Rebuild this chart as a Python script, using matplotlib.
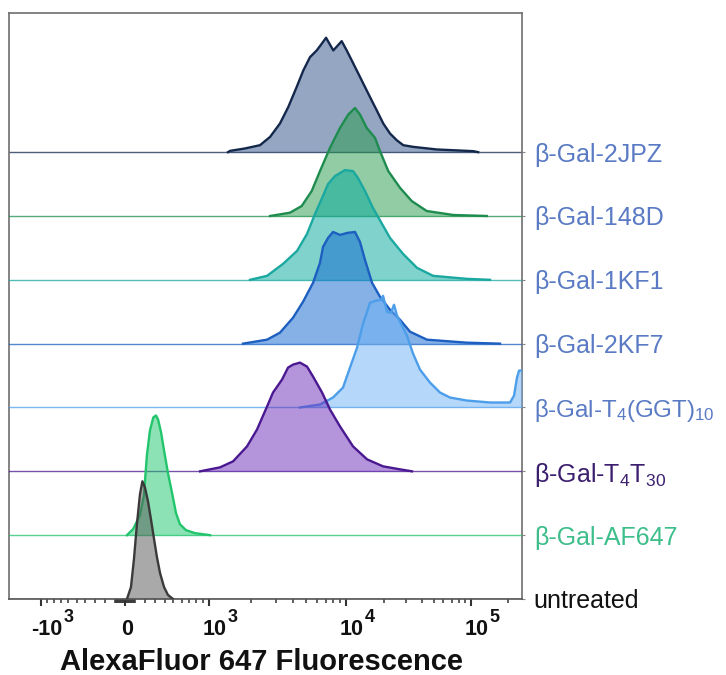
import numpy as np
import matplotlib
matplotlib.use("Agg")
import matplotlib.pyplot as plt
from matplotlib.ticker import FixedLocator, NullFormatter

plt.rcParams['font.family'] = ['Liberation Sans', 'DejaVu Sans']
plt.rcParams['mathtext.fontset'] = 'custom'
plt.rcParams['mathtext.rm'] = 'Liberation Sans'
plt.rcParams['mathtext.it'] = 'Liberation Sans'
plt.rcParams['mathtext.bf'] = 'Liberation Sans:bold'

# ---------------- data (fluorescence value, normalized count) ----------------
labels = ['β-Gal-2JPZ', 'β-Gal-148D', 'β-Gal-1KF1', 'β-Gal-2KF7',
          'β-Gal-T$_4$(GGT)$_{10}$', 'β-Gal-T$_4$T$_{30}$', 'β-Gal-AF647', 'untreated']

x_2jpz = [1372, 1419, 1808, 2308, 2722, 3205, 3686, 4246, 4758, 5337, 5994, 6538, 7054,
          8014, 9300, 10171, 11129, 12170, 13711, 15472, 17481, 19722, 22310, 25231,
          28450, 34280, 52980, 105040, 115000]
h_2jpz = [0, 1.3, 3.7, 7, 15.3, 28.7, 45.3, 65.3, 82, 95.3, 102, 108.7, 114.7,
          102, 111.3, 102, 92, 82, 68.7, 55.3, 42, 28.7, 18.7, 12,
          7, 5.3, 2.7, 1, 0]

x_148d = [2722, 3791, 4625, 5493, 6343, 7558, 9025, 10460, 11800, 12910, 14577, 16950,
          18575, 21614, 26800, 33289, 43980, 72195, 135100]
h_148d = [0, 3.3, 10, 25, 45, 68.3, 88.3, 101.7, 108.3, 101.7, 88.3, 78.3,
          65, 45, 28.3, 15, 5, 1, 0]

x_1kf1 = [1962, 2590, 3376, 4273, 5068, 5816, 6578, 7304, 8250, 9860, 11390, 12462,
          14130, 16340, 19280, 22310, 28350, 36750, 49500, 92620, 143750]
h_1kf1 = [0, 4, 16, 29, 46, 66, 82, 96, 104, 110, 109, 102,
          89, 72, 56, 42, 26, 12, 4, 1, 0]

x_2kf7 = [1749, 2590, 3205, 3993, 4733, 5622, 6343, 6687, 7304, 7973, 9025, 10235,
          11800, 12910, 14130, 16070, 18575, 22310, 26800, 32270, 44170, 92620, 173400]
h_2kf7 = [0, 4, 11, 26, 42, 61, 81, 97, 106, 112, 109, 111,
          112, 102, 84, 61, 47, 34, 24, 12, 4, 1, 0]

x_ggt = [4490, 6343, 7973, 9521, 10786, 12240, 13640, 14680, 15472, 17256, 18933, 19630,
         21135, 22704, 24012, 25383, 28350, 30470, 34130, 38810, 46750, 56324, 67900,
         92620, 143750, 209300, 225830, 238570, 248110, 262144]
h_ggt = [0, 3, 10, 20, 40, 60, 84, 96, 105, 107, 108, 112,
         96, 95, 103, 92, 80, 72, 54, 38, 25, 15, 10,
         7, 5, 5, 12, 30, 37, 37]

x_t30 = [855, 1204, 1490, 1868, 2199, 2590, 2857, 3319, 3670, 3993, 4490, 5068,
         5622, 6578, 7558, 9025, 11390, 14680, 19630, 26800, 33450]
h_t30 = [0, 4, 10, 25, 42, 65, 79, 92, 104, 107, 109, 105,
         95, 79, 62, 45, 25, 12, 5, 2, 0]

x_af = [19, 78, 146, 185, 215, 246, 280, 308, 330, 362, 394, 438, 485, 531, 578,
        656, 781, 1018]
h_af = [0, 6, 20, 40, 80, 105, 118, 120, 116, 103, 85, 62, 42, 22, 11, 5, 2, 0]

x_un = [19, 58, 87, 116, 146, 170, 195, 226, 256, 288, 318, 351, 394, 438, 495]
h_un = [0, 12, 40, 75, 105, 118, 112, 98, 80, 60, 42, 26, 12, 4, 0]

xs = [x_2jpz, x_148d, x_1kf1, x_2kf7, x_ggt, x_t30, x_af, x_un]
hs = [h_2jpz, h_148d, h_1kf1, h_2kf7, h_ggt, h_t30, h_af, h_un]

fill_colors = ['#2A4F86', '#259B4B', '#00A99B', '#0D65D1', '#6DB1F5', '#6B2DB9', '#1BC76D', '#555555']
line_colors = ['#14284B', '#1E8C4E', '#1AA8A0', '#1C5FC0', '#4D9EEA', '#4A1890', '#22C46C', '#3A3A3A']
label_colors = ['#5A7BC4', '#5A7BC4', '#5A7BC4', '#5A7BC4', '#5A7BC4', '#3B1F6E', '#3DBE8A', '#111111']
label_sizes = [18, 18, 18, 18, 17.3, 18, 18, 18]

major_ticks = [-1000, 0, 1000, 10000, 100000]
tick_bases = ['-10', '0', '10', '10', '10']
tick_exps = ['3', '', '3', '4', '5']
minor_ticks = ([-900, -800, -700, -600, -500, -400, -300, -200, -100,
                -90, -80, -70, -60, -50, -40, -30, -20, -10,
                10, 20, 30, 40, 50, 60, 70, 80, 90,
                100, 200, 300, 400, 500, 600, 700, 800, 900,
                2000, 3000, 4000, 5000, 6000, 7000, 8000, 9000,
                20000, 30000, 40000, 50000, 60000, 70000, 80000, 90000, 200000])

X_MIN, X_MAX = -1695, 262144
COUNT_PER_ROW = 64.0

# ---------------- biexponential (logicle-like) scale ----------------
P = 2.53
P2 = P * P
U_TOP = 3.254


def _f(u):
    a = np.abs(u)
    return np.sign(u) * (10.0 ** a - P2 * 10.0 ** (-a / P) + P2 - 1.0)


F_TOP = _f(U_TOP)
_ugrid = np.linspace(-1.6, 3.7, 40001)
_vgrid = X_MAX * _f(_ugrid) / F_TOP


def inverse(u):
    return X_MAX * _f(np.asarray(u, dtype=float)) / F_TOP


def forward(x):
    return np.interp(np.asarray(x, dtype=float), _vgrid, _ugrid)


# ---------------- figure ----------------
fig = plt.figure(figsize=(7.26, 6.75), dpi=100)
ax = fig.add_axes([9 / 726, 76 / 675, 513 / 726, 586 / 675])
ax.set_xscale('function', functions=(forward, inverse))

n = len(labels)
offsets = [n - 1 - i for i in range(n)]
for i in range(n):
    base = offsets[i]
    x = np.array(xs[i], dtype=float)
    y = base + np.array(hs[i], dtype=float) / COUNT_PER_ROW
    z = 2 + i
    ax.axhline(base, color=line_colors[i], lw=1.0, alpha=0.75, zorder=z)
    ax.fill_between(x, base, y, color=fill_colors[i], alpha=0.5, lw=0, zorder=z)
    ax.plot(x, y, color=line_colors[i], lw=1.7, zorder=z + 0.5, solid_joinstyle='round')

ax.set_xlim(X_MIN, X_MAX)
ax.set_ylim(0, 9.18)

ax.xaxis.set_major_locator(FixedLocator(major_ticks))
ax.xaxis.set_major_formatter(NullFormatter())
ax.xaxis.set_minor_locator(FixedLocator(minor_ticks))
ax.tick_params(axis='x', which='major', direction='out', length=5, width=1.5,
               color='#333333')
ax.tick_params(axis='x', which='minor', direction='out', length=3.2, width=1.1,
               color='#333333')

# tick labels: base and large superscript exponent
xt = ax.get_xaxis_transform()
for v, b, e in zip(major_ticks, tick_bases, tick_exps):
    if e:
        right = 15.5 if b.startswith('-') else 13.0
        ax.annotate(b, xy=(v, 0), xycoords=xt, xytext=(right, -26), textcoords='offset points',
                    ha='right', va='baseline', fontsize=15.5, fontweight='bold', color='#111111')
        ax.annotate(e, xy=(v, 0), xycoords=xt, xytext=(right + 0.5, -16.5), textcoords='offset points',
                    ha='left', va='baseline', fontsize=13, fontweight='bold', color='#111111')
    else:
        ax.annotate(b, xy=(v, 0), xycoords=xt, xytext=(1.5, -26), textcoords='offset points',
                    ha='center', va='baseline', fontsize=15.5, fontweight='bold', color='#111111')

ax.set_yticks(offsets)
ax.set_yticklabels(labels)
ax.tick_params(axis='y', which='both', left=False, right=True, labelleft=False,
               labelright=True, length=2.5, width=0.8, color='#888888',
               labelsize=18, pad=6)
for t, c, s in zip(ax.get_yticklabels(), label_colors, label_sizes):
    t.set_color(c)
    t.set_fontsize(s)

for s in ax.spines.values():
    s.set_color('#6E6E6E')
    s.set_linewidth(1.2)
ax.spines['bottom'].set_color('#555555')

ax.set_xlabel('AlexaFluor 647 Fluorescence', fontsize=21, fontweight='bold', color='#111111')
ax.xaxis.set_label_coords((261 - 9) / 513, -0.1212)
ax.xaxis.label.set_va('baseline')

fig.savefig('out.png', dpi=100)
